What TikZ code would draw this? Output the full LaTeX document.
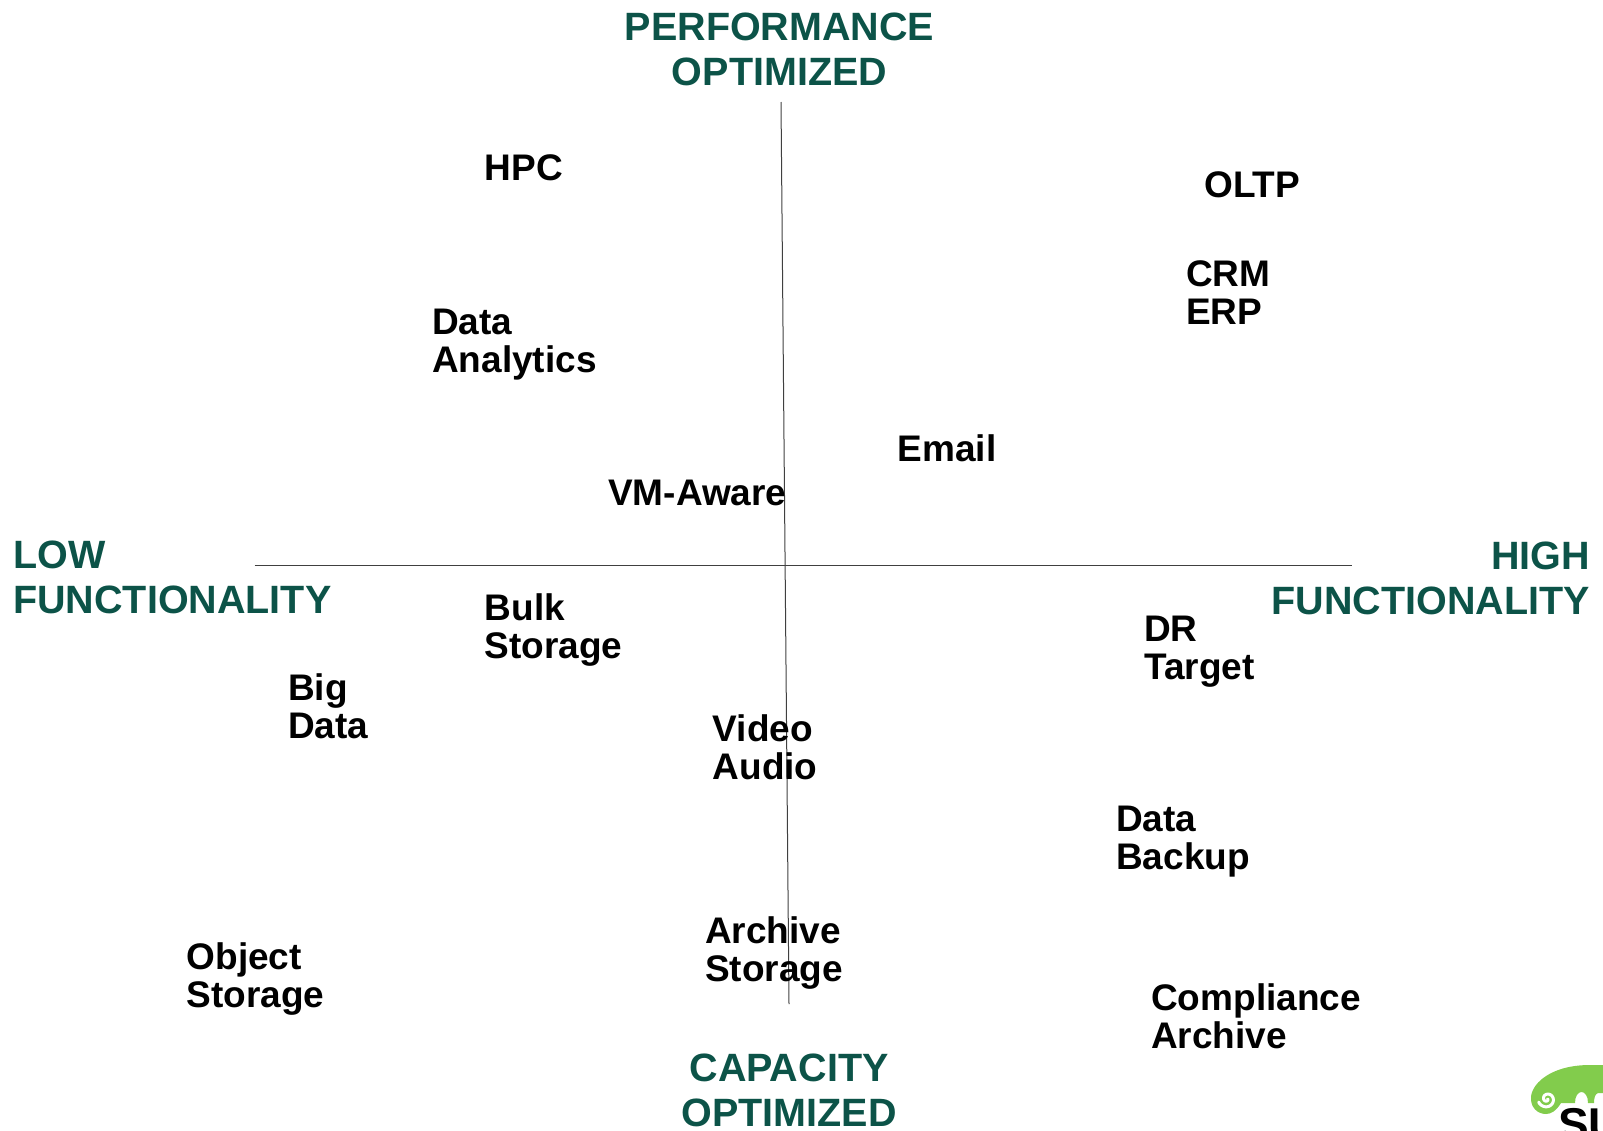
\documentclass[tikz,border=0pt]{standalone}
\usepackage{fontspec}
\setmainfont{Liberation Sans}
\definecolor{axisgreen}{RGB}{12,83,72}
\definecolor{logogreen}{RGB}{130,204,76}
\tikzset{
  axislabel/.style={text=axisgreen, inner sep=0pt, font=\fontsize{39.5}{45}\selectfont\bfseries},
  worklabel/.style={text=black, anchor=north west, align=left, inner sep=0pt, font=\fontsize{37}{38}\selectfont\bfseries, execute at begin node=\strut},
  axisline/.style={draw=black!75, line width=1pt}
}
\begin{document}
\begin{tikzpicture}[x=1pt, y=-1pt]
\useasboundingbox (0,0) rectangle (1603,1130);
\clip (0,0) rectangle (1603,1130);

\coordinate (top) at (781,102);
\coordinate (bottom) at (789,1004);
\coordinate (left) at (254.5,565);
\coordinate (right) at (1351.5,565);
\draw [axisline] (top) -- (bottom);
\draw [axisline] (left) -- (right);

\node[axislabel, align=center, anchor=north] (perf) at (779.5,8.5) {\strut PERFORMANCE\\OPTIMIZED};
\node[axislabel, align=center, anchor=north] (capa) at (789,1050) {\strut CAPACITY\\OPTIMIZED};
\node[axislabel, align=left, anchor=north west] (low) at (13,537) {\strut LOW\\FUNCTIONALITY};
\node[axislabel, align=right, anchor=north east] (high) at (1590,538) {\strut HIGH\\FUNCTIONALITY};

\node[worklabel] (hpc) at (484.5,154) {HPC};
\node[worklabel] (oltp) at (1204,170.5) {OLTP};
\node[worklabel] (crm) at (1186,260.5) {CRM\\ERP};
\node[worklabel] (analytics) at (432,309) {Data\\Analytics};
\node[worklabel] (email) at (897.5,434) {Email};
\node[worklabel] (vmaware) at (608,478.5) {VM-Aware};
\node[worklabel] (bulk) at (484.5,593) {Bulk\\Storage};
\node[worklabel] (bigdata) at (288,673) {Big\\Data};
\node[worklabel] (drtarget) at (1144,615.5) {DR\\Target};
\node[worklabel] (video) at (712.5,714) {Video\\Audio};
\node[worklabel] (backup) at (1116,806) {Data\\Backup};
\node[worklabel] (archive) at (705,916) {Archive\\Storage};
\node[worklabel] (object) at (186.5,942) {Object\\Storage};
\node[worklabel] (compliance) at (1151,983) {Compliance\\Archive};

% logo, cut off by the page edge
\fill[logogreen] (1531,1099) .. controls (1530,1086) and (1548,1065) .. (1590,1065) -- (1603,1065)
  -- (1603,1093) -- (1598,1093) .. controls (1595,1094) and (1594,1098) .. (1594,1103)
  -- (1588,1103) .. controls (1588,1096) and (1585,1092) .. (1581.5,1092)
  .. controls (1578,1092) and (1575,1096) .. (1575,1103) -- (1561,1103)
  .. controls (1556,1111) and (1551,1114) .. (1546,1114)
  .. controls (1537,1114) and (1531,1107) .. (1531,1099) -- cycle;
\draw[white, line width=3pt, line cap=round] plot[domain=0:520, samples=50, smooth]
  ({1547+(0.5+\x/62)*cos(\x)},{1099+(0.5+\x/62)*sin(\x)});
\node[anchor=base west, inner sep=0pt, font=\fontsize{46}{46}\selectfont\bfseries] (logo) at (1558,1140) {SU};
\end{tikzpicture}
\end{document}
